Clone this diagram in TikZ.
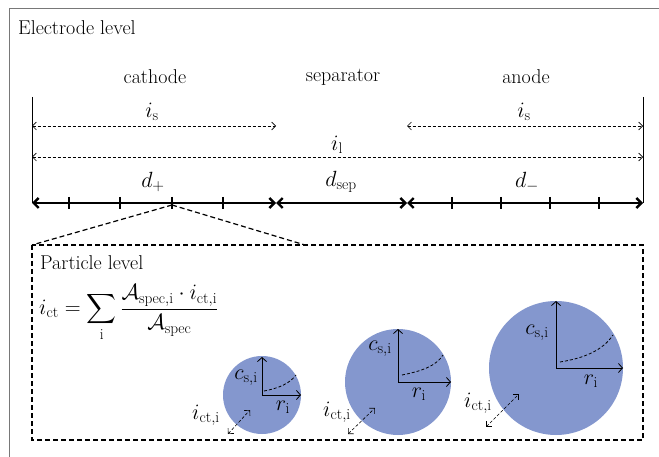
\RequirePackage{fix-cm}
\documentclass[tikz,border=0pt]{standalone}
\usepackage{amsmath}
\usepackage{fontspec}
\usetikzlibrary{arrows.meta}
\definecolor{framegray}{RGB}{120,120,120}
\definecolor{partblue}{RGB}{132,151,206}
\begin{document}
\begin{tikzpicture}[x=1pt,y=-1pt,
  font=\fontsize{20}{24}\selectfont,
  lbl/.style={inner sep=0pt},
  mlbl/.style={inner sep=0pt, font=\fontsize{22}{26}\selectfont},
  flowarr/.style={line width=0.6pt, dash pattern=on 3pt off 2pt,
    {Straight Barb[length=4pt,width=8pt]}-{Straight Barb[length=4pt,width=8pt]}},
  dline/.style={line width=2.4pt,
    {Straight Barb[length=5pt,width=10pt,line width=2.4pt]}-{Straight Barb[length=5pt,width=10pt,line width=2.4pt]}},
  tickmark/.style={line width=2.4pt},
  boxdash/.style={line width=1.2pt, dash pattern=on 5pt off 3pt},
  axisarr/.style={line width=0.8pt, -{Straight Barb[length=4pt,width=9pt]}},
  curvedash/.style={line width=0.8pt, dash pattern=on 3pt off 2pt},
  particle/.style={fill=partblue, draw=none}
]
\useasboundingbox (0,0) rectangle (659,457);
% outer frame
\draw[framegray, line width=1pt] (9,457) -- (9,9) -- (659,9);
\node[lbl, anchor=west] (elev) at (18,28) {Electrode level};

% vertical limits
\coordinate (LT) at (32,97);
\coordinate (LB) at (32,203);
\coordinate (RT) at (643,97);
\coordinate (RB) at (643,203);
\draw[line width=0.8pt] (LT) -- (LB);
\draw[line width=0.8pt] (RT) -- (RB);

% region labels
\node[lbl] (cath) at (155,77) {cathode};
\node[lbl] (sepl) at (343,77) {separator};
\node[lbl] (anod) at (526,77) {anode};

% current arrows
\coordinate (isL1) at (32,126);
\coordinate (isL2) at (276,126);
\coordinate (isR1) at (407,126);
\coordinate (isR2) at (643,126);
\coordinate (il1) at (32,157);
\coordinate (il2) at (643,157);
\draw[flowarr] (isL1) -- (isL2);
\draw[flowarr] (isR1) -- (isR2);
\draw[flowarr] (il1) -- (il2);
\node[mlbl] (isa) at (152,112) {$i_{\mathrm{s}}$};
\node[mlbl] (isb) at (524,112) {$i_{\mathrm{s}}$};
\node[mlbl] (ill) at (337,145) {$i_{\mathrm{l}}$};

% thickness line
\coordinate (s1) at (276,203);
\coordinate (s2) at (407,203);
\draw[dline] (LB) -- (s1);
\draw[dline] (s1) -- (s2);
\draw[dline] (s2) -- (RB);
\foreach \x in {69,120,172,223,452,501,550,599}
  \draw[tickmark] (\x,197) -- (\x,209);
\node[mlbl] (dp) at (153,182) {$d_{+}$};
\node[mlbl] (ds) at (341,182) {$d_{\mathrm{sep}}$};
\node[mlbl] (dm) at (527,182) {$d_{-}$};

% zoom lines
\coordinate (zt) at (172,205);
\coordinate (bxTL) at (32,245);
\coordinate (bxBR) at (643,440);
\coordinate (zr) at (305,245);
\draw[boxdash] (zt) -- (bxTL);
\draw[boxdash] (zt) -- (zr);
\draw[boxdash] (bxTL) rectangle (bxBR);
\node[lbl, anchor=west] (plev) at (40,263) {Particle level};
\node[lbl, anchor=west, font=\fontsize{22}{26}\selectfont] (eq) at (39,313)
  {$i_{\mathrm{ct}} = \displaystyle\sum_{\mathrm{i}} \frac{\mathcal{A}_{\mathrm{spec,i}}\cdot i_{\mathrm{ct,i}}}{\mathcal{A}_{\mathrm{spec}}}$};

% particle 1
\fill[particle] (262,395) circle (39);
\coordinate (p1) at (262,395);
\coordinate (p1u) at (262,357);
\coordinate (p1r) at (301,395);
\draw[axisarr] (p1) -- (p1u);
\draw[axisarr] (p1) -- (p1r);
\draw[curvedash] (264,391) .. controls (280,388) and (290,383) .. (296,375);
\node[mlbl] (c1) at (246,378) {$c_{\mathrm{s,i}}$};
\node[mlbl] (r1) at (283,407) {$r_{\mathrm{i}}$};
\node[mlbl] (i1) at (206,415) {$i_{\mathrm{ct,i}}$};
\coordinate (a1s) at (228,434);
\coordinate (a1e) at (250,410);
\draw[flowarr] (a1s) -- (a1e);

% particle 2
\fill[particle] (398,382) circle (53);
\coordinate (p2) at (398,382);
\coordinate (p2u) at (398,329);
\coordinate (p2r) at (451,382);
\draw[axisarr] (p2) -- (p2u);
\draw[axisarr] (p2) -- (p2r);
\draw[curvedash] (402,375) .. controls (422,371) and (436,366) .. (443,355);
\node[mlbl] (c2) at (380,349) {$c_{\mathrm{s,i}}$};
\node[mlbl] (r2) at (419,394) {$r_{\mathrm{i}}$};
\node[mlbl] (i2) at (337,412) {$i_{\mathrm{ct,i}}$};
\coordinate (a2s) at (348,434);
\coordinate (a2e) at (375,408);
\draw[flowarr] (a2s) -- (a2e);

% particle 3
\fill[particle] (556,368) circle (67);
\coordinate (p3) at (556,368);
\coordinate (p3u) at (556,301);
\coordinate (p3r) at (623,368);
\draw[axisarr] (p3) -- (p3u);
\draw[axisarr] (p3) -- (p3r);
\draw[curvedash] (560,362) .. controls (585,358) and (603,350) .. (613,335);
\node[mlbl] (c3) at (537,333) {$c_{\mathrm{s,i}}$};
\node[mlbl] (r3) at (591,381) {$r_{\mathrm{i}}$};
\node[mlbl] (i3) at (478,403) {$i_{\mathrm{ct,i}}$};
\coordinate (a3s) at (486,427);
\coordinate (a3e) at (519,394);
\draw[flowarr] (a3s) -- (a3e);
\end{tikzpicture}
\end{document}
